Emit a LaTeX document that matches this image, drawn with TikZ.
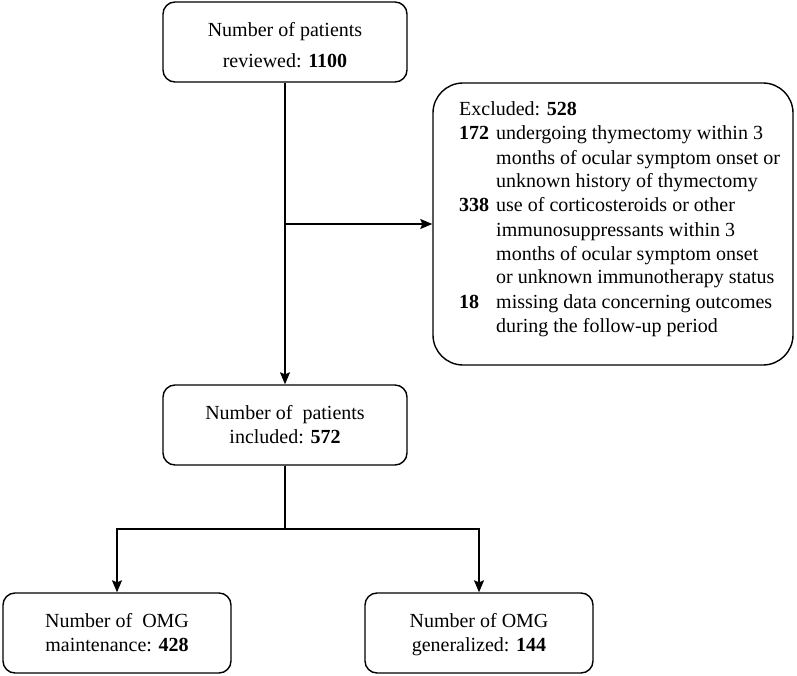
\documentclass[tikz,border=0pt]{standalone}
\usepackage{fontspec}
\setmainfont{Liberation Serif}
\usetikzlibrary{arrows.meta,calc}
\newcommand{\lowtext}[2]{\raisebox{-#1}[\height][\depth]{\begin{tabular}{@{}c@{}}#2\end{tabular}}}
\tikzset{
  flowbox/.style={draw=black, line width=1.4pt, rounded corners=12pt,
    inner sep=0pt, font=\fontsize{20}{24}\selectfont},
  bigbox/.style={draw=black, line width=1.4pt, rounded corners=30pt, inner sep=0pt},
  conn/.style={line width=1.4pt, -{Stealth[length=12pt,width=10pt,inset=2pt]}},
  plainconn/.style={line width=1.4pt}
}
\begin{document}
\begin{tikzpicture}[x=1pt,y=-1pt]
\useasboundingbox (0,0) rectangle (797,676);
\node[flowbox, minimum width=244pt, minimum height=80pt, font=\fontsize{20}{31}\selectfont] (top) at (285,42)
  {\lowtext{4pt}{Number of patients\\reviewed: \textbf{1100}}};
\node[bigbox, minimum width=360pt, minimum height=282pt] (excl) at (613,224) {};
\node[anchor=north west, inner sep=0pt, font=\fontsize{20}{24}\selectfont] (excltext) at (459,99)
  {\begin{tabular}{@{}l@{\hspace{7pt}}l@{}}
   \multicolumn{2}{@{}l@{}}{Excluded: \textbf{528}}\\
   \textbf{172} & undergoing thymectomy within 3\\
    & months of ocular symptom onset or\\
    & unknown history of thymectomy\\
   \textbf{338} & use of corticosteroids or other\\
    & immunosuppressants within 3\\
    & months of ocular symptom onset\\
    & or unknown immunotherapy status\\
   \textbf{18} & missing data concerning outcomes\\
    & during the follow-up period
   \end{tabular}};
\node[flowbox, minimum width=244pt, minimum height=80pt] (mid) at (285,425)
  {\lowtext{2pt}{Number of\ \ patients\\included: \textbf{572}}};
\node[flowbox, minimum width=228pt, minimum height=80pt] (bl) at (117,633)
  {\lowtext{2pt}{Number of\ \ OMG\\maintenance: \textbf{428}}};
\node[flowbox, minimum width=228pt, minimum height=80pt] (br) at (479,633)
  {\lowtext{2pt}{Number of OMG\\generalized: \textbf{144}}};
\coordinate (branch) at (top.south |- excl.west);
\draw[conn] (top.south) -- (mid.north);
\draw[conn] (branch) -- (excl.west);
\coordinate (split) at (285,529);
\draw[plainconn] (mid.south) -- (split);
\draw[conn] (split) -| (bl.north);
\draw[conn] (split) -| (br.north);
\end{tikzpicture}
\end{document}
